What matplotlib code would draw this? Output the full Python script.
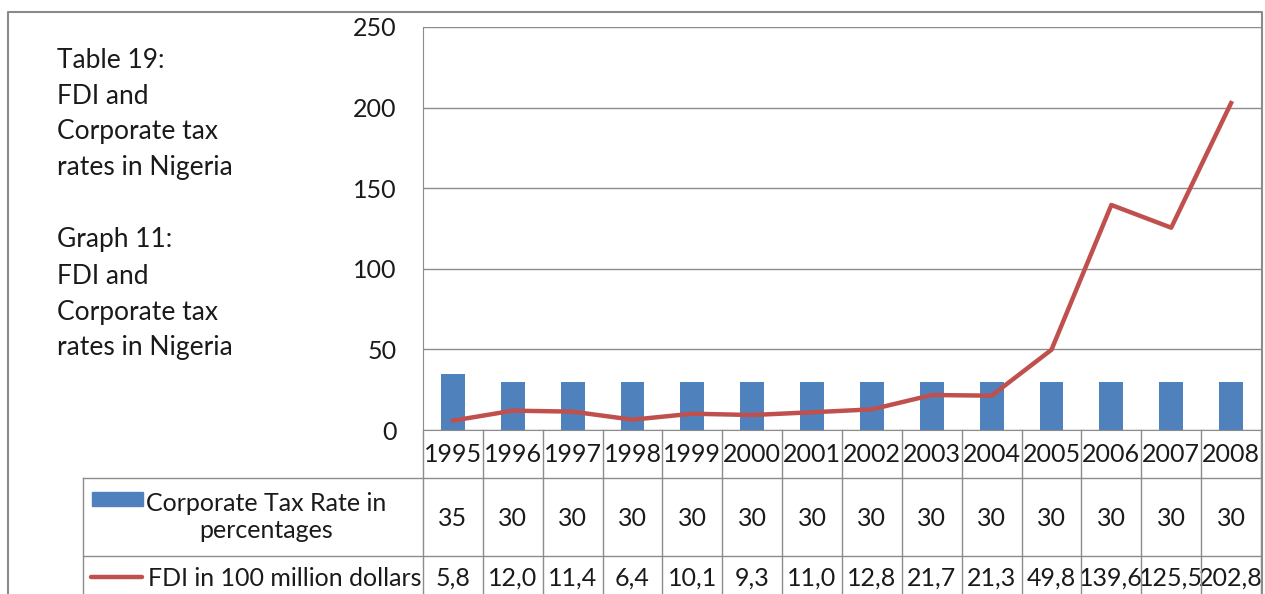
import matplotlib
matplotlib.use('Agg')
import numpy as np
import matplotlib.pyplot as plt
import matplotlib.transforms as mtransforms
from matplotlib.lines import Line2D
from matplotlib.patches import Rectangle

plt.rcParams['font.family'] = ['Lato', 'DejaVu Sans']

#Chart data
years = ['1995', '1996', '1997', '1998', '1999', '2000', '2001',
         '2002', '2003', '2004', '2005', '2006', '2007', '2008']
tax_rate = [35, 30, 30, 30, 30, 30, 30, 30, 30, 30, 30, 30, 30, 30]
fdi = [5.8, 12.0, 11.4, 6.4, 10.1, 9.3, 11.0, 12.8, 21.7, 21.3, 49.8, 139.6, 125.5, 202.8]
tax_label = 'Corporate Tax Rate in\npercentages'
fdi_label = 'FDI in 100 million dollars'
side_text = ['Table 19:', 'FDI and', 'Corporate tax', 'rates in Nigeria', '',
             'Graph 11:', 'FDI and', 'Corporate tax', 'rates in Nigeria']

BLUE = '#4F81BD'
RED = '#C0504D'
GRID = '#8C8C8C'
TXT = '#1a1a1a'
FS = 18

W, H = 1265, 594
def fx(px):
    return px / W
def fy(py):
    return 1 - py / H

fig = plt.figure(figsize=(W / 100, H / 100), dpi=100)
ax = fig.add_axes([fx(423), fy(430), fx(1261) - fx(423), fy(27) - fy(430)])

x = np.arange(len(years))
ax.bar(x, tax_rate, width=0.4, color=BLUE, zorder=2)
ax.plot(x, fdi, color=RED, lw=3.2, zorder=3, solid_joinstyle='round')

ax.set_xlim(-0.5, len(years) - 0.5)
ax.set_ylim(0, 250)
ax.set_yticks(np.arange(0, 251, 50))
ax.set_xticks([])
ax.tick_params(axis='y', length=0, pad=19, labelsize=FS, labelcolor=TXT)
ax.grid(axis='y', color=GRID, lw=1, zorder=0)
for s in ['top', 'right']:
    ax.spines[s].set_visible(False)
ax.spines['left'].set_color(GRID)
ax.spines['bottom'].set_color(GRID)

#Data table under the chart
trans = mtransforms.blended_transform_factory(ax.transData, fig.transFigure)
for i in range(len(years) + 1):
    fig.add_artist(Line2D([i - 0.5, i - 0.5], [fy(430), fy(600)], color=GRID, lw=1,
                          transform=trans))
for py in [478, 556]:
    fig.add_artist(Line2D([fx(83), fx(1261)], [fy(py), fy(py)], color=GRID, lw=1))
fig.add_artist(Line2D([fx(83), fx(83)], [fy(478), fy(600)], color=GRID, lw=1))

for i in range(len(years)):
    ax.text(i, fy(455), years[i], transform=trans, ha='center', va='center', fontsize=FS, color=TXT)
    ax.text(i, fy(518), str(tax_rate[i]), transform=trans, ha='center', va='center', fontsize=FS, color=TXT)
    ax.text(i, fy(578), ('%.1f' % fdi[i]).replace('.', ','), transform=trans,
            ha='center', va='center', fontsize=FS, color=TXT)

#Legend keys
fig.add_artist(Rectangle((fx(92), fy(506)), fx(143) - fx(92), fy(492) - fy(506), color=BLUE))
fig.text(fx(266), fy(517), tax_label, ha='center', va='center', fontsize=FS, color=TXT,
         linespacing=1.25)
fig.add_artist(Line2D([fx(91), fx(142)], [fy(577), fy(577)], color=RED, lw=3.2,
                      solid_capstyle='round'))
fig.text(fx(148), fy(578), fdi_label, ha='left', va='center', fontsize=FS, color=TXT)

#Side text
for k, line in enumerate(side_text):
    fig.text(fx(57), fy(60 + 36 * k), line, ha='left', va='center', fontsize=19, color=TXT)

#Outer border
fig.add_artist(Line2D([fx(8), fx(8), fx(1262), fx(1262)], [fy(600), fy(12), fy(12), fy(600)],
                      color='#8A8A8A', lw=1.5))

fig.savefig('out.png', dpi=100)
